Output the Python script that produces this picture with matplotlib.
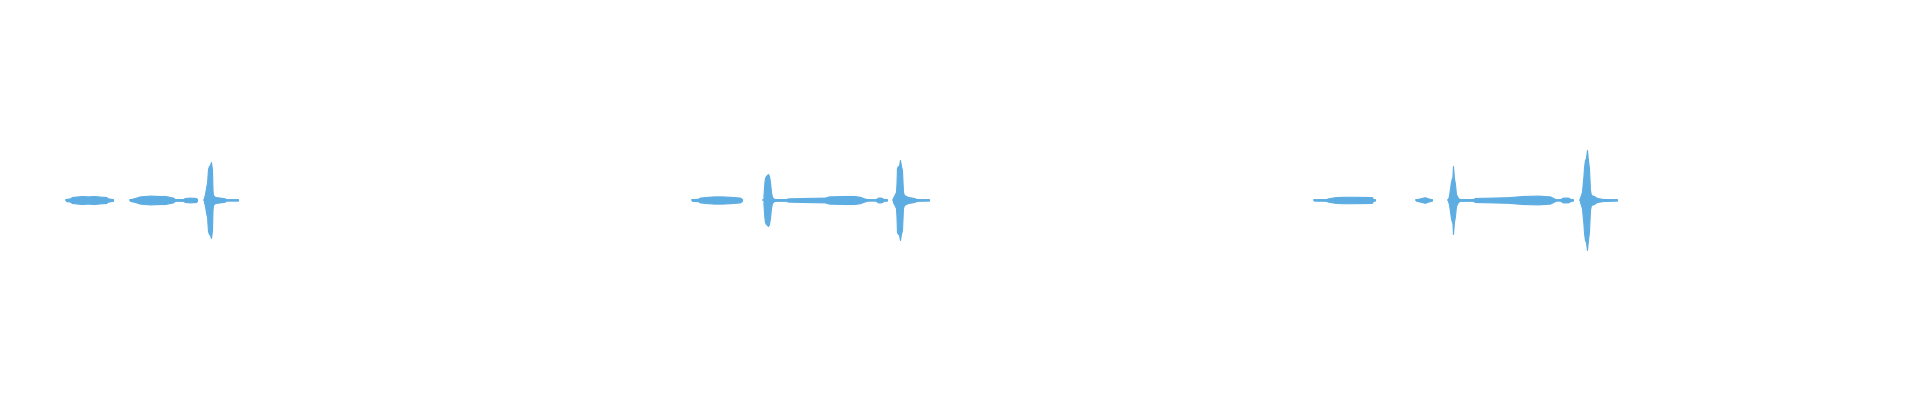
import numpy as np
import matplotlib
matplotlib.use("Agg")
import matplotlib.pyplot as plt

# envelope of each recording: time (s), half amplitude
# every recording is split into the pieces that are separated by silence
rec1_t = [
    [0.06, 0.10, 0.12, 0.16, 0.22, 0.28, 0.34, 0.40, 0.46, 0.48, 0.53],
    [0.70, 0.75, 0.80, 0.90, 1.00, 1.05, 1.13, 1.15, 1.23, 1.25, 1.30, 1.36, 1.37],
    [1.44, 1.45, 1.465, 1.47, 1.48, 1.49, 1.50, 1.51, 1.515, 1.52, 1.525, 1.53, 1.55, 1.60, 1.65, 1.66, 1.78],
]
rec1_a = [
    [0.005, 0.008, 0.015, 0.017, 0.020, 0.018, 0.020, 0.017, 0.015, 0.008, 0.004],
    [0.004, 0.010, 0.018, 0.022, 0.020, 0.020, 0.012, 0.004, 0.004, 0.010, 0.012, 0.010, 0.004],
    [0.010, 0.030, 0.075, 0.080, 0.155, 0.170, 0.175, 0.190, 0.170, 0.150, 0.050, 0.025, 0.015, 0.012, 0.008, 0.003, 0.003],
]

rec2_t = [
    [0.08, 0.14, 0.16, 0.22, 0.30, 0.38, 0.46, 0.56, 0.58],
    [0.795, 0.80, 0.805, 0.81, 0.82, 0.83, 0.84, 0.85, 0.86, 0.87, 0.88, 0.90, 0.93, 1.02, 1.04, 1.20,
     1.41, 1.45, 1.60, 1.70, 1.76, 1.80, 1.84, 1.91, 1.92, 1.94, 1.97, 2.00, 2.03],
    [2.09, 2.12, 2.125, 2.13, 2.14, 2.15, 2.16, 2.17, 2.18, 2.19, 2.20, 2.24, 2.30, 2.33, 2.45],
]
rec2_a = [
    [0.004, 0.006, 0.012, 0.015, 0.018, 0.018, 0.016, 0.012, 0.004],
    [0.020, 0.060, 0.090, 0.110, 0.120, 0.125, 0.130, 0.120, 0.090, 0.040, 0.015, 0.005, 0.004, 0.004, 0.008, 0.010,
     0.012, 0.018, 0.020, 0.020, 0.016, 0.008, 0.003, 0.003, 0.004, 0.012, 0.012, 0.004, 0.003],
    [0.010, 0.040, 0.080, 0.160, 0.170, 0.170, 0.200, 0.170, 0.150, 0.040, 0.025, 0.015, 0.010, 0.004, 0.003],
]

rec3_t = [
    [0.06, 0.18, 0.20, 0.27, 0.35, 0.45, 0.60, 0.64, 0.65, 0.67],
    [1.08, 1.12, 1.17, 1.20, 1.24],
    [1.40, 1.41, 1.42, 1.43, 1.44, 1.445, 1.45, 1.46, 1.47, 1.48, 1.50, 1.52, 1.65, 1.67, 1.85, 2.00,
     2.15, 2.30, 2.42, 2.46, 2.48, 2.52, 2.55, 2.60, 2.63, 2.65],
    [2.72, 2.74, 2.755, 2.76, 2.77, 2.78, 2.79, 2.80, 2.81, 2.82, 2.83, 2.86, 2.89, 2.95, 3.09],
]
rec3_a = [
    [0.003, 0.004, 0.008, 0.014, 0.016, 0.016, 0.015, 0.014, 0.004, 0.003],
    [0.003, 0.008, 0.014, 0.008, 0.003],
    [0.005, 0.020, 0.055, 0.090, 0.110, 0.115, 0.170, 0.110, 0.080, 0.030, 0.010, 0.004, 0.004, 0.010, 0.012, 0.014,
     0.020, 0.022, 0.018, 0.008, 0.003, 0.003, 0.012, 0.012, 0.004, 0.003],
    [0.010, 0.040, 0.120, 0.160, 0.200, 0.210, 0.250, 0.200, 0.160, 0.050, 0.025, 0.020, 0.010, 0.005, 0.003],
]

recordings = [(rec1_t, rec1_a), (rec2_t, rec2_a), (rec3_t, rec3_a)]
colour = "#5DADE2"

fig, axes = plt.subplots(1, 3, figsize=(19.2, 4), dpi=100)
plt.subplots_adjust(left=0.03125, right=0.9833, top=1.0, bottom=0.0, wspace=0.0759)

for ax, (times, amps) in zip(axes, recordings):
    for t, a in zip(times, amps):
        t = np.array(t)
        a = np.array(a)
        ax.fill_between(t, -a, a, color=colour, linewidth=0.8, edgecolor=colour)
        ax.plot(t, np.zeros_like(t), color=colour, linewidth=1.2)
    ax.set_xlim(0, 5.8)
    ax.set_ylim(-1, 1)
    ax.axis("off")

fig.savefig("out.png", dpi=100)
